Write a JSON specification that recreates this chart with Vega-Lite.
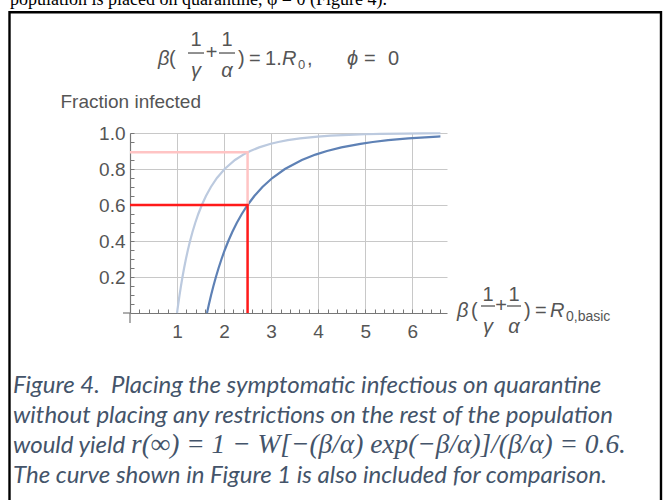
{
  "$schema": "https://vega.github.io/schema/vega-lite/v6.json",
  "width": 317,
  "height": 180,
  "autosize": {"type": "none"},
  "padding": {"left": 130, "top": 133, "right": 216, "bottom": 187},
  "background": "white",
  "config": {"view": {"stroke": null}, "text": {"font": "Liberation Sans"}},
  "resolve": {"axis": {"x": "independent", "y": "independent"}},
  "datasets": {
    "curves": [
      {"s": "fig1", "x": 1, "y": 0}, {"s": "fig1", "x": 1.0101, "y": 0.02}, {"s": "fig1", "x": 1.0259, "y": 0.05},
      {"s": "fig1", "x": 1.0536, "y": 0.1}, {"s": "fig1", "x": 1.0835, "y": 0.15}, {"s": "fig1", "x": 1.1157, "y": 0.2},
      {"s": "fig1", "x": 1.1507, "y": 0.25}, {"s": "fig1", "x": 1.1889, "y": 0.3}, {"s": "fig1", "x": 1.2308, "y": 0.35},
      {"s": "fig1", "x": 1.2771, "y": 0.4}, {"s": "fig1", "x": 1.3285, "y": 0.45}, {"s": "fig1", "x": 1.3863, "y": 0.5},
      {"s": "fig1", "x": 1.4518, "y": 0.55}, {"s": "fig1", "x": 1.5272, "y": 0.6}, {"s": "fig1", "x": 1.6151, "y": 0.65},
      {"s": "fig1", "x": 1.72, "y": 0.7}, {"s": "fig1", "x": 1.8484, "y": 0.75}, {"s": "fig1", "x": 2.0118, "y": 0.8},
      {"s": "fig1", "x": 2.2319, "y": 0.85}, {"s": "fig1", "x": 2.4094, "y": 0.88}, {"s": "fig1", "x": 2.5584, "y": 0.9},
      {"s": "fig1", "x": 2.7453, "y": 0.92}, {"s": "fig1", "x": 2.993, "y": 0.94}, {"s": "fig1", "x": 3.1534, "y": 0.95},
      {"s": "fig1", "x": 3.353, "y": 0.96}, {"s": "fig1", "x": 3.615, "y": 0.97}, {"s": "fig1", "x": 3.9919, "y": 0.98},
      {"s": "fig1", "x": 4.2637, "y": 0.985}, {"s": "fig1", "x": 4.6517, "y": 0.99}, {"s": "fig1", "x": 4.9968, "y": 0.993},
      {"s": "fig1", "x": 5.3249, "y": 0.995}, {"s": "fig1", "x": 5.8266, "y": 0.997}, {"s": "fig1", "x": 6.2271, "y": 0.998},
      {"s": "fig1", "x": 6.6, "y": 0.9986},
      {"s": "quar", "x": 1.637, "y": 0}, {"s": "quar", "x": 1.6535, "y": 0.02}, {"s": "quar", "x": 1.6794, "y": 0.05},
      {"s": "quar", "x": 1.7247, "y": 0.1}, {"s": "quar", "x": 1.7737, "y": 0.15}, {"s": "quar", "x": 1.8264, "y": 0.2},
      {"s": "quar", "x": 1.8837, "y": 0.25}, {"s": "quar", "x": 1.9462, "y": 0.3}, {"s": "quar", "x": 2.0148, "y": 0.35},
      {"s": "quar", "x": 2.0906, "y": 0.4}, {"s": "quar", "x": 2.1748, "y": 0.45}, {"s": "quar", "x": 2.2694, "y": 0.5},
      {"s": "quar", "x": 2.3766, "y": 0.55}, {"s": "quar", "x": 2.5, "y": 0.6}, {"s": "quar", "x": 2.6439, "y": 0.65},
      {"s": "quar", "x": 2.8156, "y": 0.7}, {"s": "quar", "x": 3.0258, "y": 0.75}, {"s": "quar", "x": 3.2933, "y": 0.8},
      {"s": "quar", "x": 3.6536, "y": 0.85}, {"s": "quar", "x": 3.9442, "y": 0.88}, {"s": "quar", "x": 4.1881, "y": 0.9},
      {"s": "quar", "x": 4.4941, "y": 0.92}, {"s": "quar", "x": 4.8995, "y": 0.94}, {"s": "quar", "x": 5.1621, "y": 0.95},
      {"s": "quar", "x": 5.4889, "y": 0.96}, {"s": "quar", "x": 5.9178, "y": 0.97}, {"s": "quar", "x": 6.5347, "y": 0.98},
      {"s": "quar", "x": 6.6, "y": 0.9808}
    ],
    "markers": [
      {"s": "fig1m", "i": 0, "x": 0, "y": 0.893}, {"s": "fig1m", "i": 1, "x": 2.5, "y": 0.893}, {"s": "fig1m", "i": 2, "x": 2.5, "y": 0.6},
      {"s": "quarm", "i": 0, "x": 0, "y": 0.6}, {"s": "quarm", "i": 1, "x": 2.5, "y": 0.6}, {"s": "quarm", "i": 2, "x": 2.5, "y": 0}
    ]
  },
  "layer": [
    {
      "data": {"name": "curves"},
      "mark": {"type": "line", "strokeWidth": 2.2},
      "encoding": {
        "x": {
          "field": "x", "type": "quantitative",
          "scale": {"domain": [0, 6.74], "nice": false, "zero": false},
          "axis": {
            "values": [0.2,0.4,0.6,0.8,1,1.2,1.4,1.6,1.8,2,2.2,2.4,2.6,2.8,3,3.2,3.4,3.6,3.8,4,4.2,4.4,4.6,4.8,5,5.2,5.4,5.6,5.8,6,6.2,6.4,6.6],
            "labelExpr": "abs(datum.value - round(datum.value)) < 0.001 ? format(datum.value, 'd') : ''",
            "title": null,
            "grid": true, "gridColor": "#c8c8c8", "gridWidth": 1,
            "gridOpacity": {"condition": {"test": "abs(datum.value - round(datum.value)) < 0.001", "value": 1}, "value": 0},
            "tickSize": -4, "tickColor": "#777777", "domainColor": "#777777", "domainWidth": 1.2,
            "labelPadding": 13, "labelFont": "Liberation Sans", "labelFontSize": 19, "labelColor": "#555555",
            "labelFlush": false, "labelOverlap": false, "labelBound": false
          }
        },
        "y": {
          "field": "y", "type": "quantitative",
          "scale": {"domain": [0, 1], "nice": false},
          "axis": {
            "values": [0.05,0.1,0.15,0.2,0.25,0.3,0.35,0.4,0.45,0.5,0.55,0.6,0.65,0.7,0.75,0.8,0.85,0.9,0.95,1],
            "labelExpr": "abs(datum.value*5 - round(datum.value*5)) < 0.001 ? format(datum.value, '.1f') : ''",
            "title": "Fraction infected", "titleAngle": 0, "titleAlign": "left", "titleBaseline": "alphabetic",
            "titleX": -70, "titleY": -26, "titleFont": "Liberation Sans", "titleFontSize": 19, "titleFontWeight": "normal", "titleColor": "#555555",
            "grid": true, "gridColor": "#c8c8c8", "gridWidth": 1,
            "gridOpacity": {"condition": {"test": "abs(datum.value*5 - round(datum.value*5)) < 0.001", "value": 1}, "value": 0},
            "tickSize": -4, "tickColor": "#777777", "domainColor": "#777777", "domainWidth": 1.2,
            "labelPadding": 9, "labelFont": "Liberation Sans", "labelFontSize": 19, "labelColor": "#555555",
            "labelFlush": false, "labelOverlap": false, "labelBound": false
          }
        },
        "color": {
          "field": "s", "type": "nominal",
          "scale": {"domain": ["fig1", "quar", "fig1m", "quarm"], "range": ["#bccadf", "#5e81b5", "#ffc4c4", "#ff1a1a"]},
          "legend": null
        }
      }
    },
    {
      "data": {"values": [{}]},
      "mark": {"type": "rect", "fill": "transparent", "stroke": "#000000", "strokeWidth": 2.4},
      "encoding": {"x": {"datum": -2.5621, "axis": null}, "x2": {"datum": 11.2899}, "y": {"datum": 1.6711, "axis": null}, "y2": {"datum": -1.15}}
    },
    {
      "data": {"name": "markers"},
      "mark": {"type": "line", "strokeWidth": 2.5},
      "encoding": {
        "x": {"field": "x", "type": "quantitative", "axis": null},
        "y": {"field": "y", "type": "quantitative", "axis": null},
        "color": {"field": "s", "type": "nominal", "legend": null},
        "order": {"field": "i", "type": "quantitative"}
      }
    },
    {
      "data": {"values": [{}]},
      "mark": {"type": "rule", "color": "#777777", "strokeWidth": 1.2},
      "encoding": {"x": {"datum": -0.1488, "axis": null}, "x2": {"datum": 0}, "y": {"datum": 0, "axis": null}}
    },
    {
      "data": {"values": [{}]},
      "mark": {"type": "rule", "color": "#777777", "strokeWidth": 1.2},
      "encoding": {"x": {"datum": 0, "axis": null}, "y": {"datum": -0.0556, "axis": null}, "y2": {"datum": 0}}
    },
    {
      "data": {"values": [{}]},
      "mark": {"type": "text", "align": "left", "baseline": "alphabetic", "font": "Liberation Serif", "fontSize": 18, "color": "#000000", "text": "population is placed on quarantine, φ = 0 (Figure 4)."},
      "encoding": {"x": {"datum": -2.5514, "axis": null}, "y": {"datum": 1.7111, "axis": null}}
    },
    {
      "data": {"values": [{}]},
      "mark": {"type": "text", "align": "left", "baseline": "alphabetic", "fontSize": 20, "fontStyle": "italic", "color": "#555555", "text": "β"},
      "encoding": {"x": {"datum": 0.5953, "axis": null}, "y": {"datum": 1.3778, "axis": null}}
    },
    {
      "data": {"values": [{}]},
      "mark": {"type": "text", "align": "left", "baseline": "alphabetic", "fontSize": 20, "color": "#555555", "text": "("},
      "encoding": {"x": {"datum": 0.8292, "axis": null}, "y": {"datum": 1.3778, "axis": null}}
    },
    {
      "data": {"values": [{}]},
      "mark": {"type": "text", "align": "center", "baseline": "alphabetic", "fontSize": 20, "color": "#555555", "text": "1"},
      "encoding": {"x": {"datum": 1.4033, "axis": null}, "y": {"datum": 1.4833, "axis": null}}
    },
    {
      "data": {"values": [{}]},
      "mark": {"type": "rule", "color": "#555555", "strokeWidth": 1.3},
      "encoding": {"x": {"datum": 1.2332, "axis": null}, "x2": {"datum": 1.5734}, "y": {"datum": 1.4444, "axis": null}}
    },
    {
      "data": {"values": [{}]},
      "mark": {"type": "text", "align": "center", "baseline": "alphabetic", "fontSize": 20, "fontStyle": "italic", "color": "#555555", "text": "γ"},
      "encoding": {"x": {"datum": 1.4033, "axis": null}, "y": {"datum": 1.3111, "axis": null}}
    },
    {
      "data": {"values": [{}]},
      "mark": {"type": "text", "align": "center", "baseline": "alphabetic", "fontSize": 20, "color": "#555555", "text": "+"},
      "encoding": {"x": {"datum": 1.7328, "axis": null}, "y": {"datum": 1.4111, "axis": null}}
    },
    {
      "data": {"values": [{}]},
      "mark": {"type": "text", "align": "center", "baseline": "alphabetic", "fontSize": 20, "color": "#555555", "text": "1"},
      "encoding": {"x": {"datum": 2.0624, "axis": null}, "y": {"datum": 1.4833, "axis": null}}
    },
    {
      "data": {"values": [{}]},
      "mark": {"type": "rule", "color": "#555555", "strokeWidth": 1.3},
      "encoding": {"x": {"datum": 1.8923, "axis": null}, "x2": {"datum": 2.2325}, "y": {"datum": 1.4444, "axis": null}}
    },
    {
      "data": {"values": [{}]},
      "mark": {"type": "text", "align": "center", "baseline": "alphabetic", "fontSize": 20, "fontStyle": "italic", "color": "#555555", "text": "α"},
      "encoding": {"x": {"datum": 2.0624, "axis": null}, "y": {"datum": 1.3111, "axis": null}}
    },
    {
      "data": {"values": [{}]},
      "mark": {"type": "text", "align": "left", "baseline": "alphabetic", "fontSize": 20, "color": "#555555", "text": ")"},
      "encoding": {"x": {"datum": 2.2963, "axis": null}, "y": {"datum": 1.3778, "axis": null}}
    },
    {
      "data": {"values": [{}]},
      "mark": {"type": "text", "align": "left", "baseline": "alphabetic", "fontSize": 20, "color": "#555555", "text": "="},
      "encoding": {"x": {"datum": 2.5302, "axis": null}, "y": {"datum": 1.3778, "axis": null}}
    },
    {
      "data": {"values": [{}]},
      "mark": {"type": "text", "align": "left", "baseline": "alphabetic", "fontSize": 20, "color": "#555555", "text": "1."},
      "encoding": {"x": {"datum": 2.8705, "axis": null}, "y": {"datum": 1.3778, "axis": null}}
    },
    {
      "data": {"values": [{}]},
      "mark": {"type": "text", "align": "left", "baseline": "alphabetic", "fontSize": 20, "fontStyle": "italic", "color": "#555555", "text": "R"},
      "encoding": {"x": {"datum": 3.2318, "axis": null}, "y": {"datum": 1.3778, "axis": null}}
    },
    {
      "data": {"values": [{}]},
      "mark": {"type": "text", "align": "left", "baseline": "alphabetic", "fontSize": 13, "color": "#555555", "text": "0"},
      "encoding": {"x": {"datum": 3.5720, "axis": null}, "y": {"datum": 1.3556, "axis": null}}
    },
    {
      "data": {"values": [{}]},
      "mark": {"type": "text", "align": "left", "baseline": "alphabetic", "fontSize": 20, "color": "#555555", "text": ","},
      "encoding": {"x": {"datum": 3.7633, "axis": null}, "y": {"datum": 1.3778, "axis": null}}
    },
    {
      "data": {"values": [{}]},
      "mark": {"type": "text", "align": "left", "baseline": "alphabetic", "fontSize": 20, "fontStyle": "italic", "color": "#555555", "text": "ϕ"},
      "encoding": {"x": {"datum": 4.6138, "axis": null}, "y": {"datum": 1.3778, "axis": null}}
    },
    {
      "data": {"values": [{}]},
      "mark": {"type": "text", "align": "left", "baseline": "alphabetic", "fontSize": 20, "color": "#555555", "text": "="},
      "encoding": {"x": {"datum": 4.9753, "axis": null}, "y": {"datum": 1.3778, "axis": null}}
    },
    {
      "data": {"values": [{}]},
      "mark": {"type": "text", "align": "left", "baseline": "alphabetic", "fontSize": 20, "color": "#555555", "text": "0"},
      "encoding": {"x": {"datum": 5.4856, "axis": null}, "y": {"datum": 1.3778, "axis": null}}
    },
    {
      "data": {"values": [{}]},
      "mark": {"type": "text", "align": "left", "baseline": "alphabetic", "fontSize": 20, "fontStyle": "italic", "color": "#555555", "text": "β"},
      "encoding": {"x": {"datum": 6.9526, "axis": null}, "y": {"datum": -0.0222, "axis": null}}
    },
    {
      "data": {"values": [{}]},
      "mark": {"type": "text", "align": "left", "baseline": "alphabetic", "fontSize": 20, "color": "#555555", "text": "("},
      "encoding": {"x": {"datum": 7.2502, "axis": null}, "y": {"datum": -0.0222, "axis": null}}
    },
    {
      "data": {"values": [{}]},
      "mark": {"type": "text", "align": "center", "baseline": "alphabetic", "fontSize": 20, "color": "#555555", "text": "1"},
      "encoding": {"x": {"datum": 7.6117, "axis": null}, "y": {"datum": 0.0667, "axis": null}}
    },
    {
      "data": {"values": [{}]},
      "mark": {"type": "rule", "color": "#555555", "strokeWidth": 1.3},
      "encoding": {"x": {"datum": 7.4628, "axis": null}, "x2": {"datum": 7.7605}, "y": {"datum": 0.0389, "axis": null}}
    },
    {
      "data": {"values": [{}]},
      "mark": {"type": "text", "align": "center", "baseline": "alphabetic", "fontSize": 20, "fontStyle": "italic", "color": "#555555", "text": "γ"},
      "encoding": {"x": {"datum": 7.6117, "axis": null}, "y": {"datum": -0.1111, "axis": null}}
    },
    {
      "data": {"values": [{}]},
      "mark": {"type": "text", "align": "center", "baseline": "alphabetic", "fontSize": 20, "color": "#555555", "text": "+"},
      "encoding": {"x": {"datum": 7.888, "axis": null}, "y": {"datum": 0.0056, "axis": null}}
    },
    {
      "data": {"values": [{}]},
      "mark": {"type": "text", "align": "center", "baseline": "alphabetic", "fontSize": 20, "color": "#555555", "text": "1"},
      "encoding": {"x": {"datum": 8.1645, "axis": null}, "y": {"datum": 0.0667, "axis": null}}
    },
    {
      "data": {"values": [{}]},
      "mark": {"type": "rule", "color": "#555555", "strokeWidth": 1.3},
      "encoding": {"x": {"datum": 8.0157, "axis": null}, "x2": {"datum": 8.3133}, "y": {"datum": 0.0389, "axis": null}}
    },
    {
      "data": {"values": [{}]},
      "mark": {"type": "text", "align": "center", "baseline": "alphabetic", "fontSize": 20, "fontStyle": "italic", "color": "#555555", "text": "α"},
      "encoding": {"x": {"datum": 8.1645, "axis": null}, "y": {"datum": -0.1111, "axis": null}}
    },
    {
      "data": {"values": [{}]},
      "mark": {"type": "text", "align": "left", "baseline": "alphabetic", "fontSize": 20, "color": "#555555", "text": ")"},
      "encoding": {"x": {"datum": 8.3771, "axis": null}, "y": {"datum": -0.0222, "axis": null}}
    },
    {
      "data": {"values": [{}]},
      "mark": {"type": "text", "align": "left", "baseline": "alphabetic", "fontSize": 20, "color": "#555555", "text": "="},
      "encoding": {"x": {"datum": 8.6109, "axis": null}, "y": {"datum": -0.0222, "axis": null}}
    },
    {
      "data": {"values": [{}]},
      "mark": {"type": "text", "align": "left", "baseline": "alphabetic", "fontSize": 20, "fontStyle": "italic", "color": "#555555", "text": "R"},
      "encoding": {"x": {"datum": 8.9299, "axis": null}, "y": {"datum": -0.0222, "axis": null}}
    },
    {
      "data": {"values": [{}]},
      "mark": {"type": "text", "align": "left", "baseline": "alphabetic", "fontSize": 14, "color": "#555555", "text": "0,basic"},
      "encoding": {"x": {"datum": 9.2702, "axis": null}, "y": {"datum": -0.0444, "axis": null}}
    },
    {
      "data": {"values": [{}]},
      "mark": {"type": "text", "align": "left", "baseline": "alphabetic", "font": "Lato", "fontSize": 24, "fontStyle": "italic", "color": "#44546a", "lineHeight": 30,
        "text": ["Figure 4.\u00a0 Placing the symptomatic infectious on quarantine", "without placing any restrictions on the rest of the population", "would yield", "The curve shown in Figure 1 is also included for comparison."]},
      "encoding": {"x": {"datum": -2.4876, "axis": null}, "y": {"datum": -0.4444, "axis": null}}
    },
    {
      "data": {"values": [{}]},
      "mark": {"type": "text", "align": "left", "baseline": "alphabetic", "font": "Liberation Serif", "fontSize": 27.4, "fontStyle": "italic", "color": "#44546a", "text": "r(∞) = 1 − W[−(β/α) exp(−β/α)]/(β/α) = 0.6."},
      "encoding": {"x": {"datum": 0.0213, "axis": null}, "y": {"datum": -0.7778, "axis": null}}
    }
  ]
}
